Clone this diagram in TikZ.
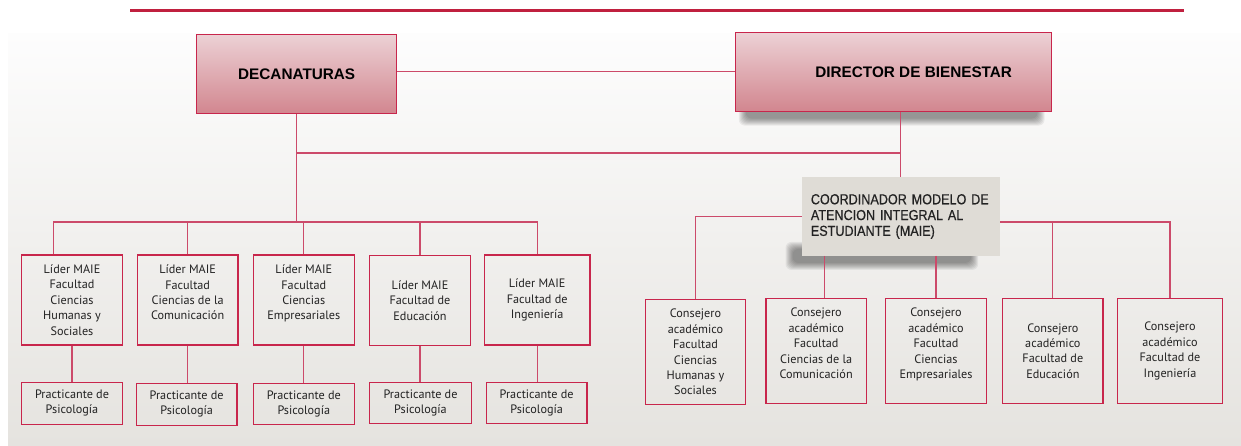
\documentclass[tikz,border=0pt]{standalone}
\usepackage{fontspec}
\setmainfont{Liberation Sans}
\newfontfamily\bodyfont{PT Sans}
\newfontfamily\narrowfont[FakeStretch=0.87, FakeBold=0.6]{Liberation Sans}
\usetikzlibrary{calc}

\definecolor{rule}{HTML}{C0203F}
\definecolor{brd}{HTML}{C8264C}
\definecolor{lnk}{HTML}{CC4A6A}
\definecolor{pinkTop}{HTML}{ECD1D5}
\definecolor{pinkBot}{HTML}{D2868F}
\definecolor{coordFill}{HTML}{DFDCD6}
\definecolor{bgTop}{HTML}{FDFDFD}
\definecolor{bgBot}{HTML}{E5E3DF}
\definecolor{ink}{HTML}{222222}

\pgfdeclarelayer{bg}
\pgfdeclarelayer{shade}
\pgfsetlayers{bg,shade,main}

\tikzset{
  headbox/.style={draw=brd, line width=1.1pt, top color=pinkTop, bottom color=pinkBot,
    inner sep=0pt, text=black, font=\bfseries\fontsize{15.3}{18}\selectfont},
  coordbox/.style={fill=coordFill, inner xsep=9pt, inner ysep=0pt, align=left,
    text width=180pt, text=ink, font=\narrowfont\fontsize{14.5}{15.8}\selectfont},
  smallbox/.style={draw=brd, line width=1.1pt, inner sep=0pt, align=center,
    text=ink, font=\bodyfont\fontsize{12.2}{15.4}\selectfont},
  lidbox/.style={smallbox, minimum height=90pt},
  pracbox/.style={smallbox, minimum height=41.7pt},
  consbox/.style={smallbox, minimum height=105.4pt},
  link/.style={draw=lnk, line width=1.1pt},
  softshade/.style={fill=black, fill opacity=0.06, rounded corners=6pt}
}

\begin{document}
\begin{tikzpicture}[x=1pt, y=-1pt]
\useasboundingbox (0,0) rectangle (1241,445);

% page background and top rule
\begin{pgfonlayer}{bg}
  \fill[white] (0,0) rectangle (1241,445);
  \shade[top color=bgTop, bottom color=bgBot] (8,33) rectangle (1241,445);
  \draw[rule, line width=3.2pt] (130,10.7) -- (1184,10.7);
\end{pgfonlayer}

% top level
\node[headbox, minimum width=200pt, minimum height=79.4pt] (dec) at (296.7,74) {DECANATURAS};
\node[headbox, minimum width=315.7pt, minimum height=78.3pt] (dir) at (893.2,71.9)
  {\hspace*{41pt}DIRECTOR DE BIENESTAR};
\node[coordbox, minimum width=198.3pt, minimum height=78.4pt] (coord) at (900.85,216.5)
  {COORDINADOR MODELO DE\\ATENCION INTEGRAL AL\\ESTUDIANTE (MAIE)\\[4pt]};

% faculty leaders
\node[lidbox, minimum width=100.6pt] (L1) at (72,300)
  {Líder MAIE\\Facultad\\Ciencias\\Humanas y\\Sociales};
\node[lidbox, minimum width=100.7pt] (L2) at (187.65,300)
  {Líder MAIE\\Facultad\\Ciencias de la\\Comunicación\\\mbox{}};
\node[lidbox, minimum width=101pt] (L3) at (303.8,300)
  {Líder MAIE\\Facultad\\Ciencias\\Empresariales\\\mbox{}};
\node[lidbox, minimum width=100.6pt] (L4) at (420,300.5)
  {Líder MAIE\\Facultad de\\Educación};
\node[lidbox, minimum width=105.7pt] (L5) at (537.15,300)
  {Líder MAIE\\Facultad de\\Ingeniería};

% psychology interns
\node[pracbox, minimum width=100.6pt] (P1) at (72,403.2) {Practicante de\\Psicología};
\node[pracbox, minimum width=100.7pt] (P2) at (186.65,404.2) {Practicante de\\Psicología};
\node[pracbox, minimum width=101pt] (P3) at (303.8,404) {Practicante de\\Psicología};
\node[pracbox, minimum width=101.6pt] (P4) at (420.5,403) {Practicante de\\Psicología};
\node[pracbox, minimum width=100.7pt] (P5) at (536.65,403) {Practicante de\\Psicología};

% academic counsellors
\node[consbox, minimum width=100.4pt] (C1) at (695.5,352.1)
  {Consejero\\académico\\Facultad\\Ciencias\\Humanas y\\Sociales};
\node[consbox, minimum width=100.3pt] (C2) at (816.15,351)
  {Consejero\\académico\\Facultad\\Ciencias de la\\Comunicación\\\mbox{}};
\node[consbox, minimum width=100.6pt] (C3) at (936,351)
  {Consejero\\académico\\Facultad\\Ciencias\\Empresariales\\\mbox{}};
\node[consbox, minimum width=100.3pt] (C4) at (1052.85,351)
  {Consejero\\académico\\Facultad de\\Educación};
\node[consbox, minimum width=105.4pt] (C5) at (1170,351)
  {Consejero\\académico\\Facultad de\\Ingeniería};

% soft shadows under the upper boxes
\begin{pgfonlayer}{shade}
  \foreach \r in {0,...,7} {
    \fill[softshade] ($(dir.south west)+(4+\r,-12+\r)$) rectangle ($(dir.south east)+(-7-\r,14-\r)$);
    \fill[softshade] ($(coord.south west)+(-16+\r,-14+\r)$) rectangle ($(coord.south east)+(-22-\r,14-\r)$);
  }
\end{pgfonlayer}

% connectors between the two heads
\draw[link] (dir.west) -- (dir.west -| dec.east);
\coordinate (hub) at (dec.south |- 0,153);
\draw[link] (dec.south) -- (dec.south |- 0,222);
\draw[link] (hub) -- (hub -| coord.north);
\draw[link] (dir.south -| coord.north) -- (coord.north);

% faculty leaders branch
\coordinate (lb) at (53.3,222);
\draw[link] (L1.north -| lb) -- (lb) -- (lb -| L5.north) -- (L5.north);
\draw[link] (L2.north) -- (L2.north |- lb);
\draw[link] (L3.north) -- (L3.north |- lb);
\draw[link] (L4.north) -- (L4.north |- lb);
\foreach \i in {1,...,5} { \draw[link] (L\i.south) -- (P\i.north -| L\i.south); }

% counsellors branch
\draw[link] (coord.west) -| (C1.north);
\coordinate (m2) at (824.7,0);
\draw[link] (m2 |- coord.south) -- (m2 |- C2.north);
\draw[link] (C3.north |- coord.south) -- (C3.north);
\coordinate (rb) at (1000,222);
\draw[link] (rb) -| (C5.north);
\draw[link] (C4.north |- rb) -- (C4.north);
\end{tikzpicture}
\end{document}
